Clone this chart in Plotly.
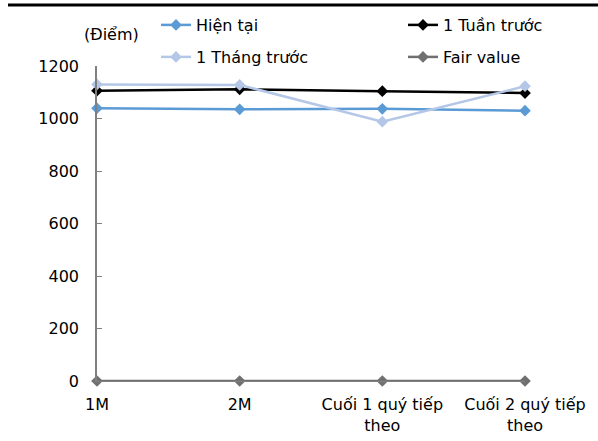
import plotly.graph_objects as go

categories = ["1M", "2M", "Cuối 1 quý tiếp<br>theo", "Cuối 2 quý tiếp<br>theo"]
hien_tai = [1039, 1035, 1037, 1030]
tuan_truoc = [1106, 1111, 1104, 1097]
thang_truoc = [1130, 1128, 988, 1123]
fair_value = [0, 0, 0, 0]
y_ticks = [0, 200, 400, 600, 800, 1000, 1200]

FONT = "DejaVu Sans, sans-serif"
FS = 16

# name, values, colour, legend id, legend text left-x (px), legend row centre-y (px)
series = [
    ("Hiện tại", hien_tai, "#5B9BD5", "legend", 196, 25),
    ("1 Tuần trước", tuan_truoc, "#000000", "legend2", 443, 25),
    ("1 Tháng trước", thang_truoc, "#B4C7E7", "legend3", 196, 57),
    ("Fair value", fair_value, "#707070", "legend4", 443, 57),
]

W, H = 598, 441
L, R, T, B = 97, 73, 66, 60
pw = W - L - R
ph = H - T - B


def px_x(p):
    return (p - L) / pw


def px_y(p):
    return (H - B - p) / ph


fig = go.Figure()
legends = {}
for name, vals, color, leg, tx, ty in series:
    fig.add_trace(go.Scatter(
        x=list(range(len(categories))), y=vals, name=name, mode="lines+markers",
        line=dict(color=color, width=2.5),
        marker=dict(symbol="diamond", size=9, color=color),
        cliponaxis=False, legend=leg,
    ))
    legends[leg] = dict(
        orientation="h", xref="container", yref="container",
        x=(tx - 40) / W, y=1 - ty / H, xanchor="left", yanchor="middle",
        font=dict(family=FONT, size=FS), bgcolor="rgba(0,0,0,0)",
    )

fig.update_layout(
    width=W, height=H,
    margin=dict(l=L, r=R, t=T, b=B, autoexpand=False),
    paper_bgcolor="white", plot_bgcolor="white",
    font=dict(family=FONT, size=FS, color="#000000"),
    xaxis=dict(
        range=[0, 3], tickmode="array", tickvals=list(range(len(categories))),
        ticktext=categories, showgrid=False, zeroline=False,
        showline=True, linecolor="#808080", linewidth=1, ticks="",
        ticklabelstandoff=9, tickfont=dict(family=FONT, size=FS),
    ),
    yaxis=dict(
        range=[0, 1200], tickmode="array", tickvals=y_ticks,
        showgrid=False, zeroline=False, showline=True, linecolor="#808080",
        linewidth=1.5, ticks="inside", ticklen=5, tickcolor="#808080",
        ticklabelstandoff=13, tickfont=dict(family=FONT, size=FS),
    ),
    showlegend=True,
    annotations=[dict(
        text="(Điểm)", xref="paper", yref="paper", x=px_x(111), y=px_y(35),
        xanchor="center", yanchor="middle", showarrow=False,
        font=dict(family=FONT, size=FS),
    )],
    shapes=[dict(
        type="line", xref="paper", yref="paper", x0=px_x(8), x1=px_x(W),
        y0=px_y(5), y1=px_y(5), line=dict(color="#000000", width=3),
    )],
    **legends,
)

fig.write_html(
    "out.html",
    config={"displayModeBar": False},
    post_script="document.body.style.margin='0';",
)
